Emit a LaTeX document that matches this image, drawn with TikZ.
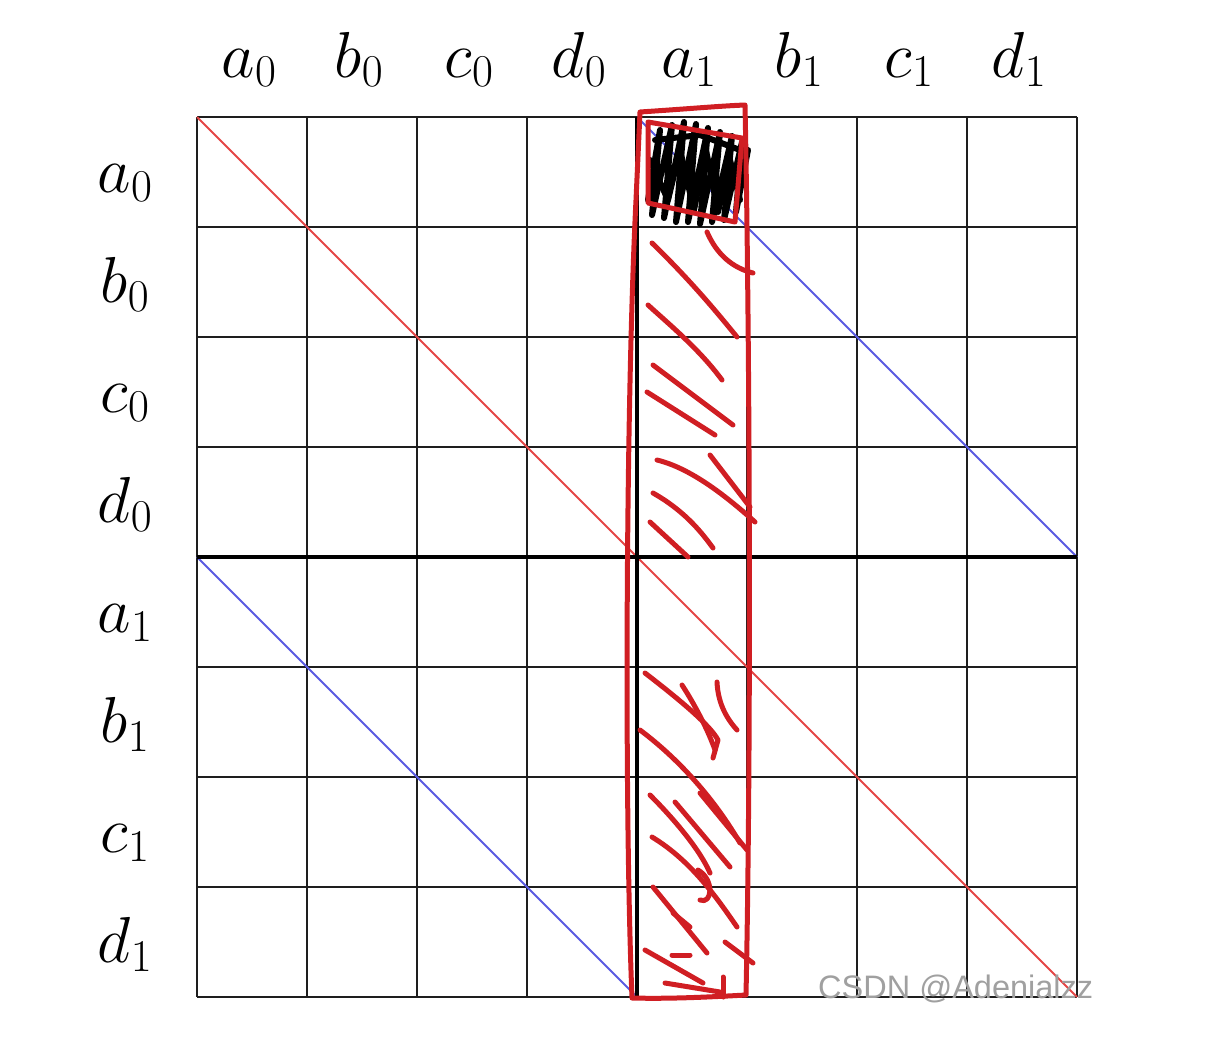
\RequirePackage{fix-cm}
\documentclass[tikz,border=0pt]{standalone}
\usepackage{fontspec}
\newfontfamily\wmfont{Liberation Sans}
\definecolor{gridc}{RGB}{30,30,30}
\definecolor{diagred}{RGB}{228,70,70}
\definecolor{diagblue}{RGB}{90,90,225}
\definecolor{penred}{RGB}{208,30,35}
\definecolor{wmgray}{RGB}{160,160,160}
\tikzset{
  gridline/.style={draw=gridc, line width=1.8pt},
  thickline/.style={draw=black, line width=4.5pt},
  reddiag/.style={draw=diagred, line width=1.8pt},
  bluediag/.style={draw=diagblue, line width=1.8pt},
  pen/.style={draw=penred, line width=5pt, line cap=round, line join=round},
  blackpen/.style={draw=black, line width=6pt, line cap=round, line join=round},
  lab/.style={anchor=base, inner sep=0pt, font=\fontsize{65}{70}\selectfont},
}
\begin{document}
\begin{tikzpicture}[x=1pt,y=-1pt]
\useasboundingbox (0,0) rectangle (1225,1061);
% corners
\coordinate (TL) at (197,117);
\coordinate (TR) at (1077,117);
\coordinate (BL) at (197,997);
\coordinate (BR) at (1077,997);
\coordinate (TM) at (637,117);
\coordinate (BM) at (637,997);
\coordinate (ML) at (197,557);
\coordinate (MR) at (1077,557);
% grid
\foreach \i in {0,...,8}{
  \draw[gridline] (197+110*\i,117) -- (197+110*\i,997);
  \draw[gridline] (197,117+110*\i) -- (1077,117+110*\i);
}
% diagonals
\draw[reddiag] (TL) -- (BR);
\draw[bluediag] (TM) -- (MR);
\draw[bluediag] (ML) -- (BM);
% thick lines
\draw[thickline] (ML) -- (MR);
\draw[thickline] (TM) -- (BM);
% labels
\foreach \n/\t [count=\k from 0] in {ta0/a_0,tb0/b_0,tc0/c_0,td0/d_0,ta1/a_1,tb1/b_1,tc1/c_1,td1/d_1}{
  \node[lab] (\n) at (249+110*\k,77) {$\t$};
}
\foreach \n/\t [count=\k from 0] in {la0/a_0,lb0/b_0,lc0/c_0,ld0/d_0,la1/a_1,lb1/b_1,lc1/c_1,ld1/d_1}{
  \node[lab] (\n) at (125,192+110*\k) {$\t$};
}
% black scribble in top cell
\draw[blackpen] (648,200) -- (660,130) -- (652,215) -- (672,125) -- (664,218) -- (684,122)
  -- (676,222) -- (696,124) -- (688,222) -- (708,128) -- (700,224) -- (720,132) -- (712,222)
  -- (732,136) -- (724,220) -- (742,142) -- (736,212) -- (748,150);
\draw[blackpen] (650,160) -- (668,200) -- (680,150) -- (694,210) -- (706,150) -- (718,212) -- (730,160) -- (740,200);
\draw[blackpen] (655,140) -- (700,135) -- (740,150);
% red tilted box in top cell
\draw[pen] (648,122) -- (742,138) -- (735,222) -- (648,203) -- cycle;
% red outer rectangle (hand drawn)
\draw[pen] (640,112) .. controls (700,108) and (720,106) .. (745,105)
  .. controls (749,300) and (752,700) .. (746,995)
  .. controls (710,997) and (670,999) .. (632,998)
  .. controls (624,800) and (626,400) .. (636,200) -- (640,112);
% red hatch strokes, upper part
\draw[pen] (652,243) .. controls (690,280) and (715,310) .. (737,337);
\draw[pen] (707,232) .. controls (717,255) and (733,268) .. (753,273);
\draw[pen] (648,305) .. controls (670,325) and (700,350) .. (722,380);
\draw[pen] (653,365) -- (733,425);
\draw[pen] (647,392) -- (715,435);
\draw[pen] (657,460) .. controls (690,468) and (725,495) .. (755,522);
\draw[pen] (710,455) -- (750,507);
\draw[pen] (653,493) .. controls (683,510) and (700,530) .. (713,548);
\draw[pen] (650,522) -- (688,557);
% red hatch strokes, lower part
\draw[pen] (645,673) .. controls (680,700) and (710,725) .. (718,740) -- (713,758);
\draw[pen] (682,685) .. controls (695,705) and (708,730) .. (715,750);
\draw[pen] (717,682) .. controls (718,705) and (728,720) .. (737,730);
\draw[pen] (640,730) .. controls (680,760) and (715,800) .. (740,843);
\draw[pen] (700,793) -- (747,850);
\draw[pen] (650,795) .. controls (675,820) and (700,850) .. (710,873);
\draw[pen] (675,802) -- (730,867);
\draw[pen] (652,837) .. controls (690,860) and (715,895) .. (737,927);
\draw[pen] (698,870) .. controls (715,880) and (712,905) .. (700,900);
\draw[pen] (653,887) -- (707,953);
\draw[pen] (673,913) -- (690,927);
\draw[pen] (672,955) -- (690,955);
\draw[pen] (645,950) -- (703,983);
\draw[pen] (725,942) -- (753,963);
\draw[pen] (665,983) -- (720,992);
\draw[pen] (723,977) -- (723,997);
% watermark
\node[anchor=base west, inner sep=0pt, text=wmgray, font=\wmfont\fontsize{32.5}{34}\selectfont] (wm) at (818,998) {CSDN @Adenialzz};
\end{tikzpicture}
\end{document}
